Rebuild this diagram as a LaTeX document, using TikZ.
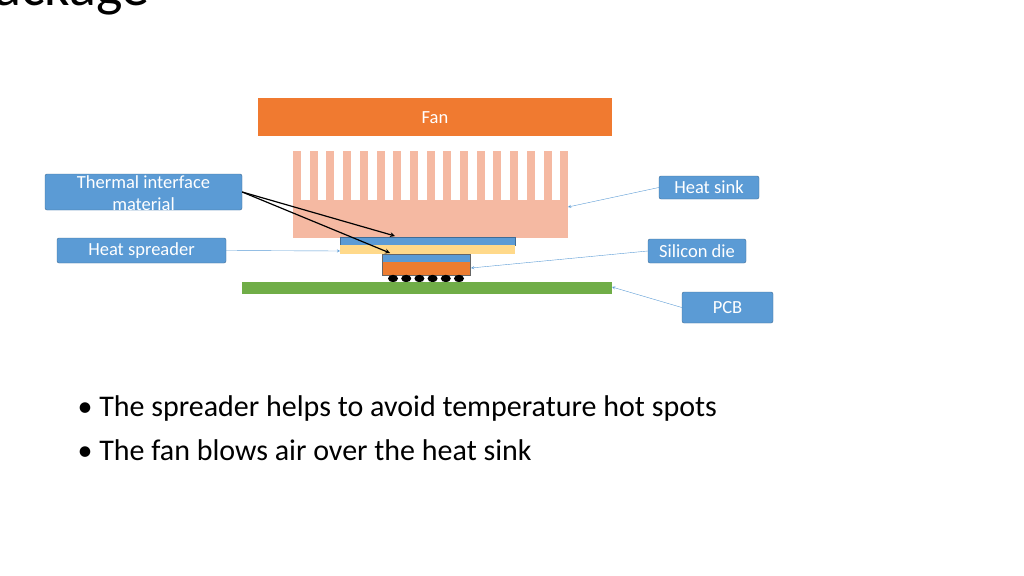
\documentclass[tikz,border=0pt]{standalone}
\usepackage{fontspec}
\setmainfont{Carlito}
\usetikzlibrary{positioning}
\definecolor{fanorange}{HTML}{F07A30}
\definecolor{sinkpink}{HTML}{F5B9A2}
\definecolor{tblue}{HTML}{5B9BD5}
\definecolor{spyellow}{HTML}{FFD98A}
\definecolor{dieorange}{HTML}{ED7D31}
\definecolor{pcbgreen}{HTML}{70AD47}
\tikzset{
  callout/.style={rectangle, rounded corners=2pt, fill=tblue, draw=tblue!70!black, text=white, font=\fontsize{18.5}{19}\selectfont, inner sep=0pt},
  pointer/.style={->, >=stealth, draw=tblue, thin},
  tim/.style={->, >=stealth, black, line width=1.2pt},
  bullet/.style={anchor=west, font=\fontsize{30}{34}\selectfont}
}
\begin{document}
\begin{tikzpicture}[x=1pt, y=-1pt]
    \useasboundingbox (0,0) rectangle (1024,575);

    % clipped slide title
    \node [anchor=base west, font=\fontsize{56}{60}\selectfont, inner sep=0pt] (title) at (-6,6) {ackage};

    % fan
    \fill [fanorange] (258,98) rectangle (612,136);
    \node [text=white, font=\fontsize{18.5}{19}\selectfont] (fan) at (435,118) {Fan};

    % heat sink
    \fill [sinkpink] (293,200) rectangle (568,238);
    \foreach \i in {0,...,16}
        \fill [sinkpink] (293+\i*16.7,151) rectangle (301+\i*16.7,201);
    \coordinate (sink) at (568,207);

    % spreader with its interface layer
    \fill [tblue] (340,237) rectangle (515,245);
    \draw [tblue!70!black, thin] (340,237) rectangle (515,245);
    \fill [spyellow] (340,245) rectangle (515,254);
    \coordinate (tim1) at (395,236);
    \coordinate (spread) at (340,251);

    % die
    \fill [tblue] (382,254) rectangle (470,262);
    \fill [dieorange] (382,262) rectangle (470,275);
    \draw [black!60, thin] (382,254) rectangle (470,275);
    \coordinate (tim2) at (390,253);
    \coordinate (die) at (471,268);

    % solder balls
    \foreach \i in {0,...,5}
        \fill [black] (393+\i*13.2,278.5) ellipse (5 and 3.7);

    % pcb
    \fill [pcbgreen] (242,282) rectangle (612,294);
    \coordinate (pcb) at (612,287);

    % callouts
    \node (timbox) [callout, minimum width=197pt, minimum height=36pt] at (143.5,192) {};
    \node [text=white, font=\fontsize{18.5}{22}\selectfont, align=center] at (143.5,193)
        {Thermal interface\\material};
    \node (spreadbox) [callout, minimum width=169pt, minimum height=25pt] at (141.5,250.5) {Heat spreader};
    \node (sinkbox) [callout, minimum width=100pt, minimum height=23pt] at (709,187.5) {Heat sink};
    \node (diebox) [callout, minimum width=98pt, minimum height=24pt] at (697,251) {Silicon die};
    \node (pcbbox) [callout, minimum width=91pt, minimum height=31pt] at (727.5,307.5) {PCB};

    \draw [tim] (timbox.east) -- (tim1);
    \draw [tim] (timbox.east) -- (tim2);
    \draw [pointer] (spreadbox.east) -- (spread);
    \draw [pointer] (sinkbox.west) -- (sink);
    \draw [pointer] (diebox.west) -- (die);
    \draw [pointer] (pcbbox.west) -- (pcb);

    % bullets
    \node (b1) [bullet] at (74,408) {\textbullet\ The spreader helps to avoid temperature hot spots};
    \node (b2) [bullet] at (74,450) {\textbullet\ The fan blows air over the heat sink};
\end{tikzpicture}
\end{document}
